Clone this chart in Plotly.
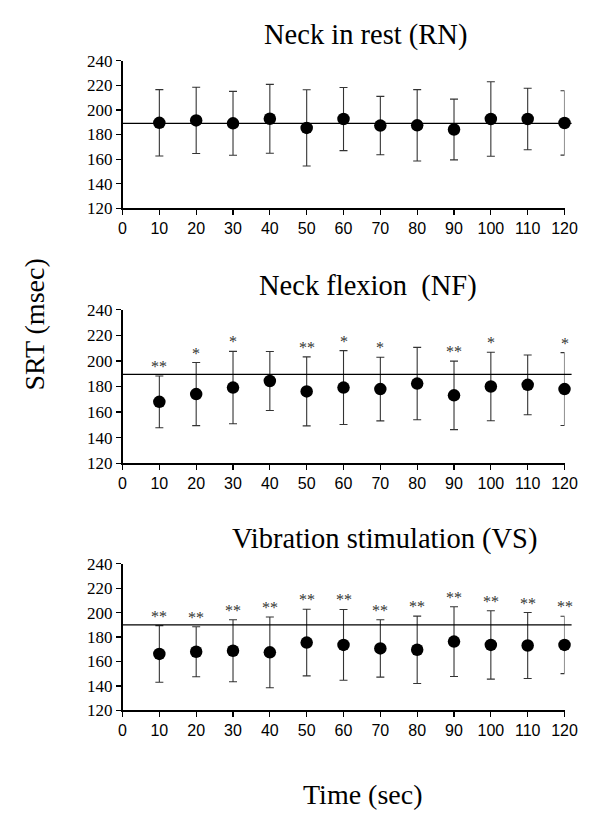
import plotly.graph_objects as go

times = [10, 20, 30, 40, 50, 60, 70, 80, 90, 100, 110, 120]

rn_mean = [189.5, 191.5, 189.1, 192.8, 185.4, 192.6, 187.3, 187.5, 184.1, 192.6, 192.6, 189.4]
rn_sd = [27.0, 27.0, 26.0, 28.0, 31.0, 25.7, 23.7, 29.0, 24.7, 30.3, 25.0, 26.2]
rn_sig = ["", "", "", "", "", "", "", "", "", "", "", ""]

nf_mean = [168.0, 174.1, 179.2, 184.3, 176.2, 179.2, 178.0, 182.3, 173.1, 180.0, 181.3, 178.0]
nf_sd = [20.2, 24.7, 28.3, 23.1, 27.0, 28.9, 24.9, 28.3, 26.8, 26.8, 23.4, 28.5]
nf_sig = ["**", "*", "*", "", "**", "*", "*", "", "**", "*", "", "*"]

vs_mean = [166.2, 168.0, 168.8, 167.5, 175.5, 173.6, 170.7, 169.6, 176.3, 173.6, 173.1, 173.6]
vs_sd = [23.2, 20.5, 25.4, 29.0, 27.3, 29.0, 23.5, 27.6, 28.6, 28.0, 27.0, 23.5]
vs_sig = ["**", "**", "**", "**", "**", "**", "**", "**", "**", "**", "**", "**"]

baselines = [189.0, 189.5, 190.0]
titles = ["Neck in rest (RN)", "Neck flexion  (NF)", "Vibration stimulation (VS)"]
x_ticks = [0, 10, 20, 30, 40, 50, 60, 70, 80, 90, 100, 110, 120]
y_ticks = [120, 140, 160, 180, 200, 220, 240]

W, H = 595, 819
SERIF = "Liberation Serif"
SANS = "Liberation Sans Narrow, Liberation Sans"


def px_x(v):
    return v / W


def px_y(v):
    return 1 - v / H


# page-pixel layout (top, bottom) of each plot area, and title centres
y_px = [(53, 204), (308, 465), (568, 718)]
x_px = (122, 577)
title_pos = [(372, 27), (375, 284), (392, 543)]

panels = [(rn_mean, rn_sd, rn_sig), (nf_mean, nf_sd, nf_sig), (vs_mean, vs_sd, vs_sig)]

fig = go.Figure()
layout = dict(
    width=W, height=H,
    margin=dict(l=0, r=0, t=0, b=0),
    paper_bgcolor="white", plot_bgcolor="white",
    showlegend=False,
)
annotations = []
shapes = []

for i, (mean, sd, sig) in enumerate(panels):
    n = "" if i == 0 else str(i + 1)
    xa, ya = "x" + n, "y" + n
    fig.add_trace(go.Scatter(
        x=times, y=mean, mode="markers",
        marker=dict(color="black", size=12.5),
        error_y=dict(type="data", array=sd, visible=True, color="#333333",
                     thickness=1.1, width=4),
        xaxis=xa, yaxis=ya, cliponaxis=False, hoverinfo="skip",
    ))
    top, bot = y_px[i]
    layout["xaxis" + n] = dict(
        domain=[px_x(x_px[0]), px_x(x_px[1])], anchor=ya, range=[0, 120],
        tickvals=x_ticks, ticks="outside", ticklen=5, tickwidth=1.2,
        tickcolor="black", showline=True, linecolor="black", linewidth=1.5,
        showgrid=False, zeroline=False, ticklabeloverflow="allow",
        tickfont=dict(family=SANS, size=16, color="black"),
    )
    layout["yaxis" + n] = dict(
        domain=[px_y(bot), px_y(top)], anchor=xa, range=[120, 240],
        tickvals=y_ticks, ticks="outside", ticklen=5, tickwidth=1.2,
        tickcolor="black", showline=True, linecolor="black", linewidth=1.5,
        showgrid=False, zeroline=False, ticklabeloverflow="allow",
        tickfont=dict(family=SERIF, size=17, color="black"),
    )
    shapes.append(dict(type="line", xref=xa + " domain", yref=ya,
                       x0=0, x1=1.016, y0=baselines[i], y1=baselines[i],
                       line=dict(color="black", width=1.3)))
    for t, m, s, lab in zip(times, mean, sd, sig):
        if lab:
            annotations.append(dict(
                x=t, y=m + s, xref=xa, yref=ya, text=lab, showarrow=False,
                yanchor="bottom", xanchor="center", yshift=-1,
                font=dict(family=SERIF, size=16, color="#333333"),
            ))
    tx, ty = title_pos[i]
    annotations.append(dict(
        x=px_x(tx), y=px_y(ty), xref="paper", yref="paper", text=titles[i],
        showarrow=False, xanchor="center", yanchor="middle",
        font=dict(family=SERIF, size=28.5, color="black"),
    ))

annotations.append(dict(
    x=px_x(370), y=px_y(804), xref="paper", yref="paper", text="Time (sec)",
    showarrow=False, xanchor="center", yanchor="middle",
    font=dict(family=SERIF, size=28, color="black"),
))
annotations.append(dict(
    x=px_x(31), y=px_y(323), xref="paper", yref="paper", text="SRT (msec)",
    showarrow=False, xanchor="center", yanchor="middle", textangle=-90,
    font=dict(family=SERIF, size=28, color="black"),
))

layout["annotations"] = annotations
layout["shapes"] = shapes
fig.update_layout(**layout)
fig.write_html(
    "out.html",
    config={"displayModeBar": False, "staticPlot": True},
    post_script="document.body.style.margin='0';document.documentElement.style.overflow='hidden';",
)
